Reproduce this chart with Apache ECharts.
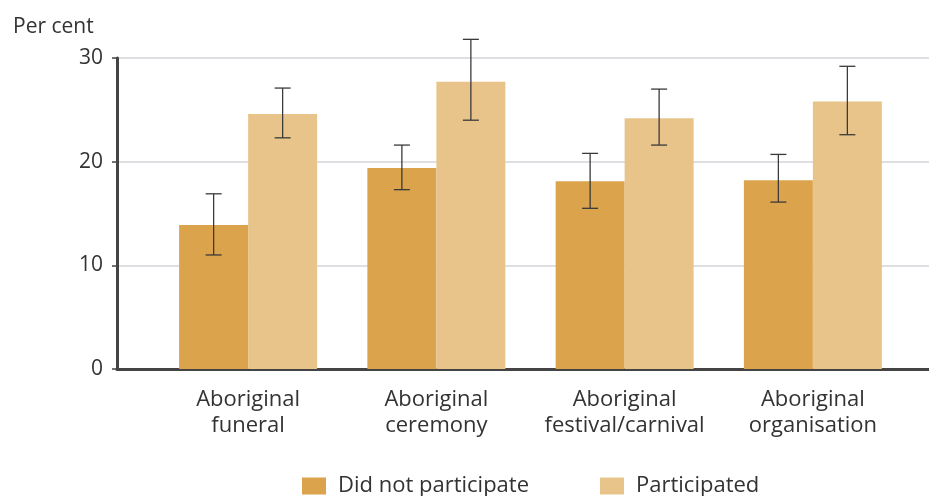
<!DOCTYPE html>
<html>
<head>
<meta charset="utf-8">
<script src="https://cdn.jsdelivr.net/npm/echarts@6/dist/echarts.min.js"></script>
<style>
  html, body { margin: 0; padding: 0; background: #fff; }
  #main { width: 929px; height: 496px; }
</style>
</head>
<body>
<div id="main"></div>
<script>
// categories and values
var categories = ['Aboriginal\nfuneral', 'Aboriginal\nceremony', 'Aboriginal\nfestival/carnival', 'Aboriginal\norganisation'];
var notParticipated = [13.9, 19.4, 18.1, 18.2];
var notParticipatedLow = [11.0, 17.3, 15.5, 16.1];
var notParticipatedHigh = [16.9, 21.6, 20.8, 20.7];
var participated = [24.6, 27.7, 24.2, 25.8];
var participatedLow = [22.3, 24.0, 21.6, 22.6];
var participatedHigh = [27.1, 31.8, 27.0, 29.2];
var yTicks = [0, 10, 20, 30];

var font = '"Open Sans", sans-serif';
var chart = echarts.init(document.getElementById('main'));

function errData(low, high) {
  return categories.map(function (c, i) {
    return [i, low[i], high[i]];
  });
}

// draws the whisker with caps, shifted to the bar centre
function makeErrRender(offset) {
  return function (params, api) {
    var ci = api.value(0);
    var top = api.coord([ci, api.value(2)]);
    var bot = api.coord([ci, api.value(1)]);
    var x = top[0] + offset;
    var style = { stroke: '#3a3a3a', lineWidth: 1.3 };
    return {
      type: 'group',
      children: [
        { type: 'line', shape: { x1: x, y1: top[1], x2: x, y2: bot[1] }, style: style },
        { type: 'line', shape: { x1: x - 8, y1: top[1], x2: x + 8, y2: top[1] }, style: style },
        { type: 'line', shape: { x1: x - 8, y1: bot[1], x2: x + 8, y2: bot[1] }, style: style }
      ]
    };
  };
}

var option = {
  animation: false,
  title: {
    text: 'Per cent',
    left: 13,
    top: 17,
    padding: 0,
    textStyle: { fontFamily: font, fontSize: 21, fontWeight: 'normal', color: '#333' }
  },
  legend: {
    data: ['Did not participate', 'Participated'],
    left: 302,
    top: 475,
    padding: 0,
    itemWidth: 24,
    itemHeight: 17,
    itemGap: 71,
    icon: 'rect',
    textStyle: { fontFamily: font, fontSize: 22, color: '#333', padding: [0, 0, 0, 7] }
  },
  grid: [
    { left: 117, right: 0, top: 58, bottom: 127 },
    { left: 154, right: 22, top: 58, bottom: 127 }
  ],
  xAxis: [
    {
      gridIndex: 0, type: 'value', min: 0, max: 1,
      axisLine: { show: true, lineStyle: { color: '#444', width: 3 } },
      axisTick: { show: false }, axisLabel: { show: false }, splitLine: { show: false }
    },
    {
      gridIndex: 1, type: 'category', data: categories,
      axisLine: { show: false }, axisTick: { show: false },
      axisLabel: { interval: 0, fontFamily: font, fontSize: 22, lineHeight: 26, color: '#333', margin: 18 }
    }
  ],
  yAxis: [
    {
      gridIndex: 0, type: 'value', min: 0, max: 30, interval: 10,
      axisLine: { show: true, lineStyle: { color: '#444', width: 3 } },
      axisTick: { show: true, length: 5, lineStyle: { color: '#444', width: 1.5 } },
      axisLabel: {
        fontFamily: font, fontSize: 21, color: '#333', margin: 14,
        formatter: function (v) { return yTicks.indexOf(v) >= 0 ? String(v) : ''; }
      },
      splitLine: { show: true, lineStyle: { color: '#d4d4da', width: 1.5 } }
    },
    { gridIndex: 1, type: 'value', min: 0, max: 30, show: false }
  ],
  series: [
    {
      name: 'Did not participate', type: 'bar', xAxisIndex: 1, yAxisIndex: 1,
      data: notParticipated, barWidth: 69, barGap: '0%',
      itemStyle: { color: '#dba34c' }, silent: true
    },
    {
      name: 'Participated', type: 'bar', xAxisIndex: 1, yAxisIndex: 1,
      data: participated, barWidth: 69, barGap: '0%',
      itemStyle: { color: '#e8c48a' }, silent: true
    },
    {
      type: 'custom', xAxisIndex: 1, yAxisIndex: 1, z: 5, silent: true,
      renderItem: makeErrRender(-34.5),
      encode: { x: 0, y: [1, 2] },
      data: errData(notParticipatedLow, notParticipatedHigh)
    },
    {
      type: 'custom', xAxisIndex: 1, yAxisIndex: 1, z: 5, silent: true,
      renderItem: makeErrRender(34.5),
      encode: { x: 0, y: [1, 2] },
      data: errData(participatedLow, participatedHigh)
    }
  ]
};

chart.setOption(option);
</script>
</body>
</html>
